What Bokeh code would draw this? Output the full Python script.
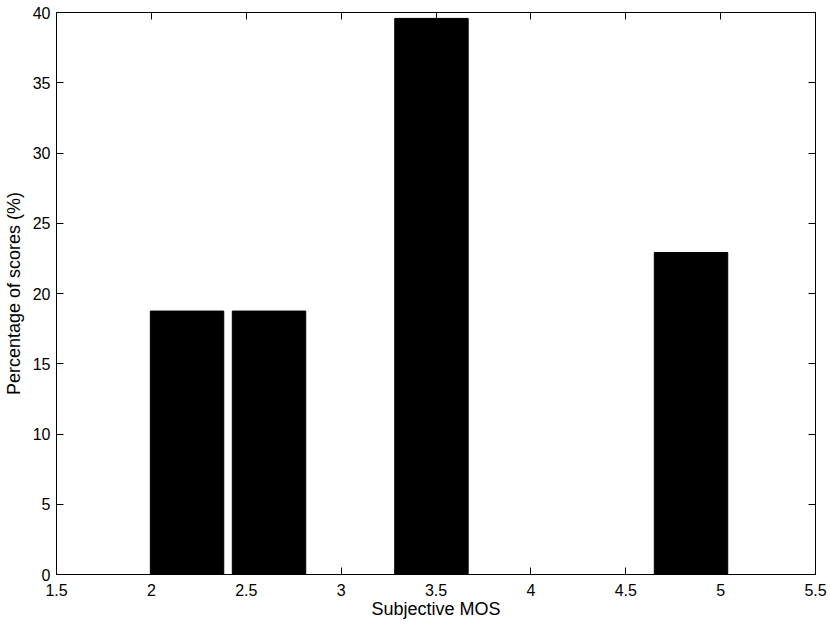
from bokeh.plotting import figure
from bokeh.models import LinearAxis, FixedTicker, Range1d, CustomJSTickFormatter
from bokeh.embed import file_html
from bokeh.resources import INLINE

# Data
mos_centers = [2.188, 2.620, 3.476, 4.844]
percentages = [18.75, 18.75, 39.58, 22.92]
bar_width = 0.387
x_ticks = [1.5, 2, 2.5, 3, 3.5, 4, 4.5, 5, 5.5]
y_ticks = [0, 5, 10, 15, 20, 25, 30, 35, 40]

FONT = "Liberation Sans"
TICK_SIZE = "16px"
LABEL_SIZE = "18px"

p = figure(width=830, height=625, output_backend="svg", toolbar_location=None,
           x_range=Range1d(1.5, 5.5), y_range=Range1d(0, 40),
           x_axis_location=None, y_axis_location=None,
           min_border_left=56, min_border_right=15, min_border_top=12, min_border_bottom=51)
p.xgrid.visible = False
p.ygrid.visible = False
p.outline_line_color = "black"
p.outline_line_width = 1

p.vbar(x=mos_centers, top=percentages, width=bar_width, bottom=0,
       fill_color="black", line_color="black")

def style(ax):
    ax.major_tick_in = 7
    ax.major_tick_out = 0
    ax.minor_tick_in = 0
    ax.minor_tick_out = 0
    ax.axis_line_color = "black"
    ax.major_tick_line_color = "black"
    ax.major_label_text_font = FONT
    ax.major_label_text_font_size = TICK_SIZE
    ax.major_label_text_color = "black"
    ax.axis_label_text_font = FONT
    ax.axis_label_text_font_size = LABEL_SIZE
    ax.axis_label_text_font_style = "normal"
    ax.axis_label_text_color = "black"

xb = LinearAxis(ticker=FixedTicker(ticks=x_ticks), axis_label="Subjective MOS")
style(xb)
xb.major_label_standoff = 9
xb.axis_label_standoff = 0
p.add_layout(xb, "below")

yl = LinearAxis(ticker=FixedTicker(ticks=y_ticks), axis_label="Percentage of scores (%)")
style(yl)
yl.major_label_standoff = 6
yl.axis_label_standoff = 6
p.add_layout(yl, "left")

blank = "return ''"
xt = LinearAxis(ticker=FixedTicker(ticks=x_ticks), formatter=CustomJSTickFormatter(code=blank))
style(xt)
xt.major_label_standoff = 0
p.add_layout(xt, "above")

yr = LinearAxis(ticker=FixedTicker(ticks=y_ticks), formatter=CustomJSTickFormatter(code=blank))
style(yr)
yr.major_label_standoff = 0
p.add_layout(yr, "right")

open("out.html", "w").write(file_html(p, INLINE))
